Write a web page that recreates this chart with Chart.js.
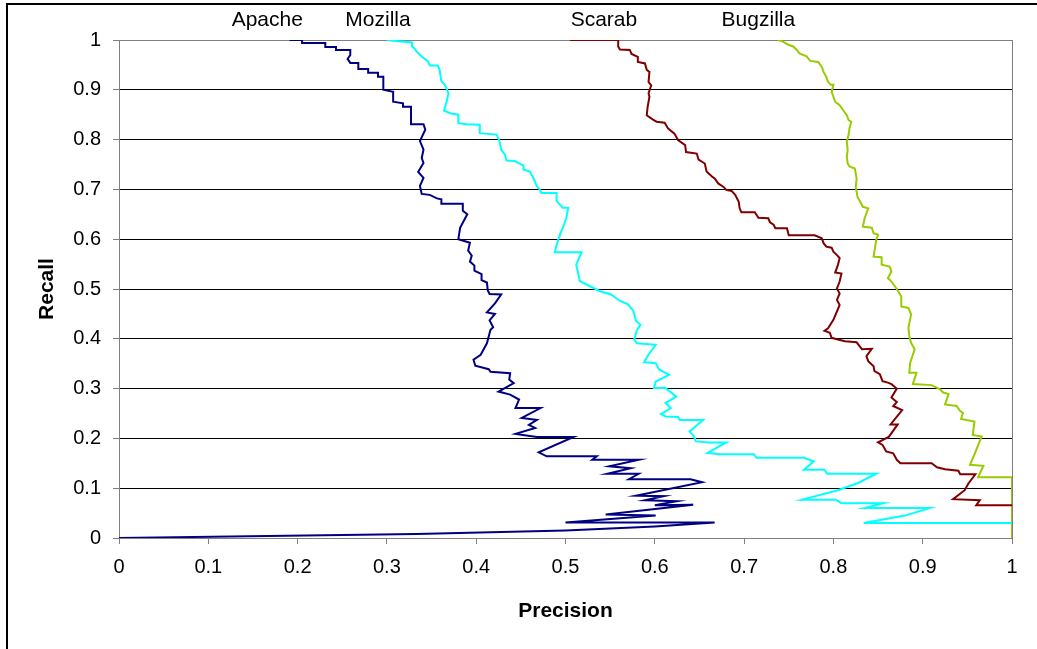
<!DOCTYPE html>
<html>
<head>
<meta charset="utf-8">
<title>Precision / Recall</title>
<script src="https://cdn.jsdelivr.net/npm/chart.js@4.4.1/dist/chart.umd.min.js"></script>
<style>
    html, body { margin: 0; padding: 0; background: #fff; overflow: hidden; }
    #wrap { position: relative; width: 1037px; height: 649px; }
    #frame {
        position: absolute; left: 6px; top: 3px; width: 1100px; height: 700px;
        border-left: 2px solid #000; border-top: 2px solid #000;
    }
    #chart { position: absolute; left: 0; top: 0; }
</style>
</head>
<body>
<div id="wrap">
    <div id="frame"></div>
    <canvas id="chart" width="1037" height="649"></canvas>
</div>
<script>
// series names and where their name sits above the plot (precision units)
const seriesNames = ['Apache', 'Mozilla', 'Scarab', 'Bugzilla'];
const seriesColors = ['#000080', '#00FFFF', '#800000', '#99CC00'];
const labelAt = [0.166, 0.290, 0.543, 0.716];

const xTickLabels = ['0', '0.1', '0.2', '0.3', '0.4', '0.5', '0.6', '0.7', '0.8', '0.9', '1'];
const yTickLabels = ['0', '0.1', '0.2', '0.3', '0.4', '0.5', '0.6', '0.7', '0.8', '0.9', '1'];

// Apache
const apachePrecision = [
    0.191, 0.205, 0.205, 0.231, 0.231, 0.243, 0.243, 0.259, 0.259, 0.256,
    0.259, 0.268, 0.268, 0.279, 0.279, 0.290, 0.290, 0.296, 0.296, 0.307,
    0.307, 0.318, 0.318, 0.327, 0.327, 0.341, 0.343, 0.337, 0.341, 0.339,
    0.341, 0.335, 0.341, 0.337, 0.339, 0.348, 0.356, 0.361, 0.361, 0.385,
    0.385, 0.390, 0.382, 0.380, 0.393, 0.391, 0.395, 0.393, 0.398, 0.398,
    0.406, 0.406, 0.412, 0.413, 0.415, 0.428, 0.421, 0.412, 0.421, 0.415,
    0.419, 0.416, 0.412, 0.405, 0.397, 0.399, 0.414, 0.416, 0.438, 0.437,
    0.442, 0.425, 0.438, 0.448, 0.444, 0.472, 0.451, 0.468, 0.459, 0.466,
    0.444, 0.468, 0.509, 0.470, 0.479, 0.535, 0.530, 0.582, 0.549, 0.573,
    0.547, 0.582, 0.571, 0.640, 0.653, 0.579, 0.610, 0.589, 0.625, 0.600,
    0.643, 0.545, 0.601, 0.500, 0.667, 0.600, 0.500, 0.333, 0
];
const apacheRecall = [
    1.0, 1.0, 0.994, 0.994, 0.986, 0.986, 0.980, 0.980, 0.970, 0.962,
    0.954, 0.954, 0.942, 0.942, 0.934, 0.934, 0.926, 0.926, 0.900, 0.896,
    0.876, 0.873, 0.866, 0.866, 0.831, 0.831, 0.820, 0.797, 0.780, 0.763,
    0.753, 0.735, 0.723, 0.707, 0.691, 0.689, 0.682, 0.680, 0.671, 0.671,
    0.657, 0.650, 0.623, 0.600, 0.593, 0.577, 0.567, 0.555, 0.547, 0.537,
    0.530, 0.518, 0.513, 0.497, 0.490, 0.489, 0.471, 0.453, 0.450, 0.437,
    0.423, 0.418, 0.391, 0.368, 0.358, 0.346, 0.339, 0.334, 0.331, 0.318,
    0.311, 0.294, 0.288, 0.278, 0.261, 0.261, 0.241, 0.237, 0.227, 0.221,
    0.209, 0.203, 0.203, 0.172, 0.164, 0.164, 0.157, 0.157, 0.144, 0.140,
    0.129, 0.129, 0.118, 0.118, 0.112, 0.085, 0.084, 0.076, 0.074, 0.066,
    0.067, 0.047, 0.045, 0.031, 0.031, 0.023, 0.015, 0.008, 0
];

// Mozilla
const mozillaPrecision = [
    0.300, 0.310, 0.328, 0.328, 0.331, 0.333, 0.339, 0.346, 0.348, 0.357,
    0.359, 0.361, 0.365, 0.369, 0.367, 0.364, 0.371, 0.380, 0.380, 0.389,
    0.404, 0.404, 0.423, 0.426, 0.428, 0.432, 0.434, 0.443, 0.453, 0.453,
    0.460, 0.464, 0.468, 0.471, 0.473, 0.490, 0.490, 0.497, 0.503, 0.501,
    0.497, 0.494, 0.490, 0.488, 0.518, 0.512, 0.516, 0.527, 0.538, 0.551,
    0.561, 0.570, 0.576, 0.579, 0.584, 0.580, 0.577, 0.580, 0.601, 0.594,
    0.588, 0.601, 0.605, 0.616, 0.601, 0.599, 0.612, 0.624, 0.612, 0.618,
    0.607, 0.612, 0.626, 0.628, 0.654, 0.639, 0.644, 0.646, 0.661, 0.680,
    0.659, 0.672, 0.711, 0.714, 0.767, 0.778, 0.767, 0.790, 0.793, 0.848,
    0.827, 0.805, 0.765, 0.803, 0.809, 0.856, 0.835, 0.908, 0.880, 0.834,
    1.0
];
const mozillaRecall = [
    1.0, 0.998, 0.995, 0.987, 0.983, 0.977, 0.967, 0.957, 0.949, 0.949,
    0.940, 0.917, 0.910, 0.893, 0.877, 0.858, 0.853, 0.850, 0.833, 0.831,
    0.830, 0.813, 0.810, 0.797, 0.780, 0.770, 0.758, 0.757, 0.748, 0.740,
    0.736, 0.723, 0.706, 0.700, 0.693, 0.693, 0.677, 0.663, 0.663, 0.643,
    0.623, 0.610, 0.589, 0.574, 0.574, 0.549, 0.516, 0.506, 0.496, 0.489,
    0.476, 0.469, 0.456, 0.436, 0.428, 0.418, 0.398, 0.391, 0.388, 0.371,
    0.353, 0.351, 0.338, 0.328, 0.314, 0.301, 0.301, 0.284, 0.271, 0.261,
    0.249, 0.244, 0.243, 0.237, 0.237, 0.214, 0.204, 0.194, 0.192, 0.192,
    0.171, 0.168, 0.168, 0.161, 0.161, 0.154, 0.137, 0.137, 0.129, 0.129,
    0.110, 0.096, 0.077, 0.077, 0.070, 0.070, 0.060, 0.060, 0.045, 0.030,
    0.030
];

// Scarab
const scarabPrecision = [
    0.505, 0.559, 0.559, 0.561, 0.572, 0.574, 0.581, 0.581, 0.589, 0.591,
    0.594, 0.593, 0.596, 0.593, 0.594, 0.592, 0.591, 0.598, 0.602, 0.611,
    0.615, 0.622, 0.626, 0.634, 0.635, 0.647, 0.649, 0.656, 0.658, 0.664,
    0.667, 0.671, 0.677, 0.680, 0.686, 0.690, 0.694, 0.695, 0.697, 0.712,
    0.716, 0.727, 0.729, 0.733, 0.735, 0.748, 0.750, 0.779, 0.787, 0.789,
    0.792, 0.798, 0.800, 0.804, 0.807, 0.805, 0.802, 0.809, 0.807, 0.804,
    0.807, 0.804, 0.807, 0.804, 0.800, 0.794, 0.790, 0.796, 0.798, 0.804,
    0.813, 0.826, 0.832, 0.843, 0.837, 0.839, 0.845, 0.846, 0.852, 0.855,
    0.861, 0.865, 0.871, 0.865, 0.871, 0.867, 0.877, 0.864, 0.872, 0.862,
    0.850, 0.855, 0.859, 0.867, 0.871, 0.875, 0.910, 0.916, 0.925, 0.940,
    0.942, 0.959, 0.951, 0.947, 0.934, 0.964, 0.960, 1.0
];
const scarabRecall = [
    1.0, 1.0, 0.987, 0.981, 0.980, 0.972, 0.966, 0.956, 0.953, 0.940,
    0.936, 0.916, 0.909, 0.893, 0.886, 0.866, 0.849, 0.840, 0.836, 0.834,
    0.822, 0.812, 0.799, 0.789, 0.775, 0.772, 0.760, 0.752, 0.736, 0.726,
    0.722, 0.712, 0.705, 0.699, 0.697, 0.689, 0.675, 0.662, 0.654, 0.654,
    0.643, 0.642, 0.634, 0.629, 0.622, 0.622, 0.608, 0.608, 0.602, 0.592,
    0.585, 0.583, 0.575, 0.568, 0.562, 0.548, 0.533, 0.531, 0.515, 0.501,
    0.491, 0.478, 0.468, 0.455, 0.438, 0.421, 0.416, 0.412, 0.402, 0.399,
    0.395, 0.393, 0.379, 0.380, 0.365, 0.355, 0.345, 0.335, 0.329, 0.315,
    0.312, 0.309, 0.300, 0.282, 0.273, 0.265, 0.257, 0.228, 0.228, 0.203,
    0.192, 0.187, 0.174, 0.170, 0.157, 0.150, 0.150, 0.142, 0.138, 0.135,
    0.128, 0.128, 0.109, 0.096, 0.078, 0.076, 0.066, 0.066
];

// Bugzilla
const bugzillaPrecision = [
    0.738, 0.742, 0.749, 0.755, 0.759, 0.762, 0.770, 0.774, 0.783, 0.787,
    0.789, 0.792, 0.794, 0.797, 0.800, 0.798, 0.800, 0.802, 0.807, 0.811,
    0.815, 0.817, 0.820, 0.818, 0.817, 0.815, 0.816, 0.815, 0.816, 0.818,
    0.824, 0.826, 0.825, 0.826, 0.827, 0.833, 0.839, 0.835, 0.833, 0.843,
    0.845, 0.850, 0.848, 0.845, 0.854, 0.854, 0.863, 0.865, 0.861, 0.865,
    0.871, 0.876, 0.876, 0.884, 0.887, 0.884, 0.885, 0.887, 0.891, 0.886,
    0.885, 0.893, 0.889, 0.910, 0.919, 0.923, 0.929, 0.925, 0.938, 0.942,
    0.945, 0.943, 0.958, 0.956, 0.966, 0.960, 0.953, 0.968, 0.962, 1.0,
    1.0
];
const bugzillaRecall = [
    1.0, 0.998, 0.991, 0.987, 0.980, 0.973, 0.967, 0.958, 0.956, 0.946,
    0.936, 0.926, 0.916, 0.910, 0.910, 0.896, 0.886, 0.876, 0.869, 0.859,
    0.849, 0.839, 0.836, 0.823, 0.809, 0.796, 0.779, 0.766, 0.752, 0.746,
    0.742, 0.722, 0.705, 0.695, 0.685, 0.665, 0.662, 0.642, 0.625, 0.623,
    0.612, 0.609, 0.599, 0.565, 0.564, 0.549, 0.545, 0.535, 0.522, 0.515,
    0.500, 0.485, 0.465, 0.462, 0.449, 0.422, 0.405, 0.392, 0.379, 0.352,
    0.332, 0.332, 0.309, 0.307, 0.299, 0.292, 0.289, 0.268, 0.265, 0.255,
    0.251, 0.239, 0.234, 0.207, 0.204, 0.177, 0.147, 0.145, 0.122, 0.122,
    0
];

const precisionSets = [apachePrecision, mozillaPrecision, scarabPrecision, bugzillaPrecision];
const recallSets = [apacheRecall, mozillaRecall, scarabRecall, bugzillaRecall];

const FONT = '"Liberation Sans", Arial, Helvetica, sans-serif';

// pair up precision/recall into points
const toPoints = (xs, ys) => xs.map((x, i) => ({ x: x, y: ys[i] }));

const datasets = seriesNames.map((name, i) => ({
    label: name,
    data: toPoints(precisionSets[i], recallSets[i]),
    borderColor: seriesColors[i],
    backgroundColor: seriesColors[i],
    showLine: true,
    borderWidth: 2,
    pointRadius: 0,
    tension: 0
}));

// names written above the plot area, black text
const seriesLabelPlugin = {
    id: 'seriesLabels',
    afterDraw(chart) {
        const { ctx, chartArea, scales } = chart;
        ctx.save();
        ctx.font = '21px ' + FONT;
        ctx.fillStyle = '#000';
        ctx.textAlign = 'center';
        ctx.textBaseline = 'alphabetic';
        seriesNames.forEach((name, i) => {
            ctx.fillText(name, scales.x.getPixelForValue(labelAt[i]), chartArea.top - 14);
        });
        ctx.restore();
    }
};

new Chart(document.getElementById('chart'), {
    type: 'scatter',
    data: { datasets },
    plugins: [seriesLabelPlugin],
    options: {
        responsive: false,
        animation: false,
        layout: { padding: { top: 40, right: 25, left: 0, bottom: 0 } },
        plugins: {
            legend: { display: false },
            tooltip: { enabled: false }
        },
        scales: {
            x: {
                type: 'linear',
                min: 0,
                max: 1,
                afterFit: (scale) => { scale.height = 111; },
                ticks: {
                    stepSize: 0.1,
                    autoSkip: false,
                    maxRotation: 0,
                    padding: 11,
                    color: '#000',
                    font: { family: FONT, size: 20 },
                    callback: (v, i) => xTickLabels[i]
                },
                grid: {
                    color: (c) => (c.index === 10 ? '#808080' : 'rgba(0,0,0,0)'),
                    tickColor: '#808080',
                    tickLength: 6,
                    lineWidth: 1
                },
                border: { color: '#808080', width: 1 },
                title: {
                    display: true,
                    text: 'Precision',
                    color: '#000',
                    font: { family: FONT, size: 21, weight: 'bold' },
                    padding: { top: 0, bottom: 25 }
                }
            },
            y: {
                type: 'linear',
                min: 0,
                max: 1,
                afterFit: (scale) => { scale.width = 119; },
                ticks: {
                    stepSize: 0.1,
                    autoSkip: false,
                    padding: 12,
                    color: '#000',
                    font: { family: FONT, size: 20 },
                    callback: (v, i) => yTickLabels[i]
                },
                grid: {
                    color: (c) => (c.index === 10 ? '#808080' : '#000'),
                    tickColor: '#808080',
                    tickLength: 6,
                    lineWidth: 1
                },
                border: { color: '#808080', width: 1 },
                title: {
                    display: true,
                    text: 'Recall',
                    color: '#000',
                    font: { family: FONT, size: 21, weight: 'bold' },
                    padding: { top: 35, bottom: 0 }
                }
            }
        }
    }
});
</script>
</body>
</html>
